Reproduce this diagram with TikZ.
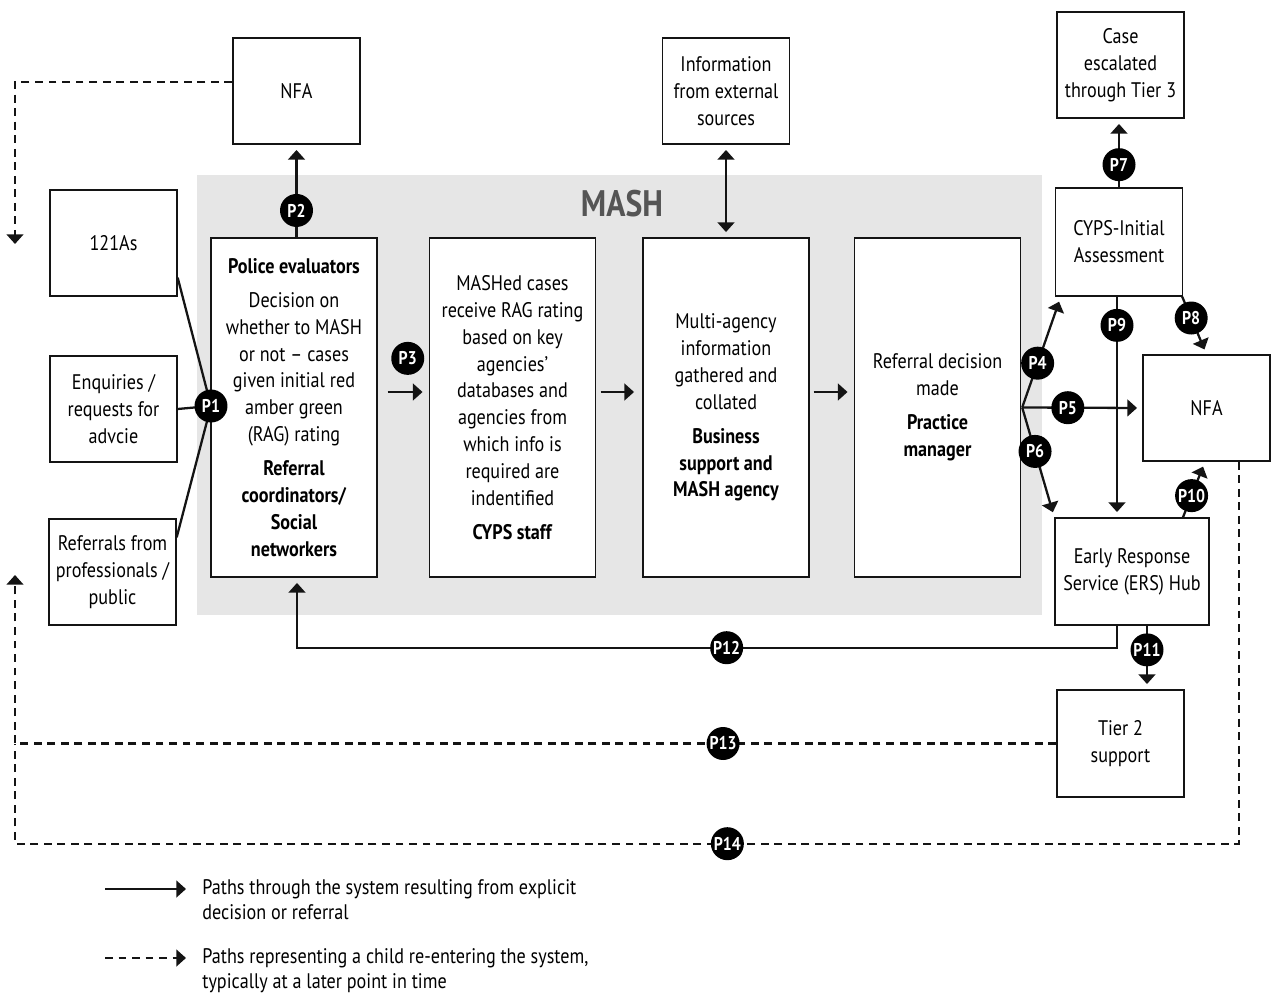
\documentclass[tikz,border=0pt]{standalone}
\usepackage{fontspec}
\setmainfont{PT Sans}[FakeStretch=0.86]
\usetikzlibrary{arrows.meta,positioning,calc}
\definecolor{ink}{RGB}{20,20,20}
\definecolor{mashbg}{RGB}{230,230,230}
\definecolor{mashtxt}{RGB}{85,85,85}
\tikzset{
  box/.style={draw=ink,line width=0.8pt,fill=white,align=center,inner sep=2pt,
    font=\fontsize{12}{15.3}\selectfont},
  small/.style={box,minimum width=2.54cm,minimum height=2.12cm},
  stage/.style={box,minimum width=3.32cm,minimum height=6.78cm},
  badge/.style={circle,fill=black,text=white,inner sep=0pt,minimum size=0.66cm,
    font=\fontsize{10.5}{12}\selectfont\bfseries},
  link/.style={line width=1.3pt,ink},
  arr/.style={link,-{Triangle[length=5.5pt,width=9.5pt]},shorten >=3pt},
  dashline/.style={link,dash pattern=on 4.5pt off 3.2pt},
  back/.style={dashline,-{Triangle[length=5.5pt,width=9.5pt]}},
  legend/.style={align=left,inner sep=0pt,font=\fontsize{12}{14.2}\selectfont},
}
\begin{document}
\begin{tikzpicture}[x=0.02cm,y=-0.02cm]
\useasboundingbox (0,0) rectangle (1271,997);

% ---- MASH area ----
\fill[mashbg] (197,175) rectangle (1042,615);
\node[text=mashtxt,font=\fontsize{21}{24}\selectfont\bfseries] (mash) at (622,204) {MASH};

% ---- inputs ----
\node[small] (r121) at (113.5,243) {121As};
\node[small] (enq) at (113.5,409) {Enquiries /\\requests for\\advcie};
\node[small] (refp) at (112.5,572) {Referrals from\\professionals /\\public};

% ---- MASH stages ----
\node[stage] (pol) at (294,407.5)
  {\textbf{Police evaluators}\\[4pt]
   Decision on\\whether to MASH\\or not -- cases\\given initial red\\amber green\\(RAG) rating\\[4pt]
   \textbf{Referral}\\\textbf{coordinators/}\\\textbf{Social}\\\textbf{networkers}};
\node[stage] (cyps) at (512.5,407.5)
  {MASHed cases\\receive RAG rating\\based on key\\agencies’\\databases and\\agencies from\\which info is\\required are\\indentified\\[4pt]
   \textbf{CYPS staff}};
\node[stage] (bus) at (726,407.5)
  {Multi-agency\\information\\gathered and\\collated\\[4pt]
   \textbf{Business}\\\textbf{support and}\\\textbf{MASH agency}};
\node[stage] (prac) at (937.5,407.5)
  {Referral decision\\made\\[4pt]
   \textbf{Practice}\\\textbf{manager}};

% ---- outcomes ----
\node[small] (nfaT) at (296.5,91) {NFA};
\node[small] (ext) at (726,91) {Information\\from external\\sources};
\node[small] (esc) at (1120.5,65) {Case\\escalated\\through Tier 3};
\node[small,minimum height=2.16cm] (init) at (1119,242) {CYPS-Initial\\Assessment};
\node[small] (nfaR) at (1206.5,408) {NFA};
\node[small,minimum width=3.08cm,minimum height=2.14cm] (ers) at (1132,571.5)
  {Early Response\\Service (ERS) Hub};
\node[small,minimum height=2.14cm] (tier) at (1120.5,743.5) {Tier 2\\support};

% ---- P1 : entry ----
\coordinate (p1) at (211,406);
\draw[link] ([yshift=0.38cm]r121.south east) -- (p1);
\draw[link] (enq.east) -- (p1);
\draw[link] ([yshift=-0.38cm]refp.north east) -- (p1);
\node[badge] at (p1) {P1};

% ---- paths through MASH ----
\draw[arr] (nfaT.south |- pol.north) -- node[badge,pos=0.29]{P2} (nfaT.south);
\draw[arr] ([xshift=0.2cm,yshift=0.31cm]pol.east) --
  node[badge,midway,above=0.32cm]{P3} ([xshift=-0.02cm,yshift=0.31cm]cyps.west);
\draw[arr] ([xshift=0.09cm,yshift=0.31cm]cyps.east) -- ([xshift=-0.06cm,yshift=0.31cm]bus.west);
\draw[arr] ([xshift=0.08cm,yshift=0.31cm]bus.east) -- ([xshift=-0.02cm,yshift=0.31cm]prac.west);
\draw[arr,shorten <=3pt,{Triangle[length=5.5pt,width=9.5pt]}-{Triangle[length=5.5pt,width=9.5pt]}]
  (ext.south) -- (ext.south |- bus.north);

% ---- decision fan ----
\coordinate (fan) at ([xshift=0.02cm]prac.east);
\draw[arr] (fan) -- node[badge,pos=0.4]{P4} ([xshift=0.12cm]init.south west);
\draw[arr] (fan) -- node[badge,pos=0.38]{P5} (nfaR.west);
\draw[arr] (fan) -- node[badge,pos=0.4]{P6} (ers.north west);

% ---- after assessment ----
\draw[arr] (init.north) -- node[badge,pos=0.33]{P7} (init.north |- esc.south);
\draw[arr] ([xshift=-0.02cm]init.south east) -- node[badge,pos=0.37]{P8} (nfaR.north);
\draw[arr] ([xshift=-0.04cm]init.south) -- node[badge,pos=0.13]{P9}
  ([xshift=-0.04cm]init.south |- ers.north);
\draw[arr] ([xshift=1.02cm]ers.north) -- node[badge,pos=0.39]{P10} ([xshift=-0.03cm]nfaR.south);
\draw[arr] ([xshift=0.3cm]ers.south) -- node[badge,pos=0.38]{P11}
  ([xshift=0.3cm]ers.south |- tier.north);
\draw[arr] ([xshift=-0.3cm]ers.south) -- ++(0,22) -| node[badge,pos=0.238]{P12}
  ([xshift=0.06cm]pol.south);

% ---- re-entry ----
\coordinate (loopin) at (15,244);
\coordinate (reentry) at (15,575);
\draw[back] ([yshift=0.18cm]nfaT.west) -| (loopin);
\draw[dashline] ([xshift=0.65cm]nfaR.south) -- ++(0,382) -| node[badge,pos=0.209]{P14}
  (reentry |- tier.west);
\draw[back] (tier.west) -| node[badge,pos=0.16]{P13} (reentry);

% ---- legend ----
\node[legend,anchor=north west] (lgA) at (202,879)
  {Paths through the system resulting from explicit\\decision or referral};
\node[legend,anchor=north west] (lgB) at (202,948)
  {Paths representing a child re-entering the system,\\typically at a later point in time};
\coordinate (lgAs) at (105,889);
\coordinate (lgBs) at (105,958);
\draw[arr,shorten >=0pt] (lgAs) -- (lgAs -| 186,0);
\draw[back] (lgBs) -- (lgBs -| 186,0);
\end{tikzpicture}
\end{document}
